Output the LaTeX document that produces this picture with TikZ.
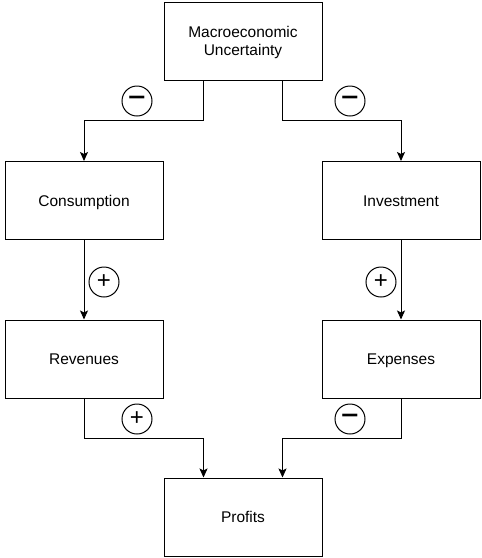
\documentclass[tikz,border=0pt]{standalone}
\usepackage{fontspec}
\setmainfont{Liberation Sans}
\usetikzlibrary{arrows.meta,positioning}

\newcommand{\negsign}{\scalebox{1.25}[1]{\textbf{−}}}

\tikzset{
  blockbox/.style={draw, line width=1pt, minimum width=158pt, minimum height=78pt, inner sep=0pt, align=center, font=\fontsize{15.5}{18.5}\selectfont},
  oneline/.style={blockbox, text height=11pt, text depth=0pt},
  signmark/.style={draw, circle, line width=1pt, minimum size=30pt, inner sep=0pt, font=\fontsize{24}{24}\selectfont},
  flow/.style={line width=1pt, -{Stealth[length=9pt,width=8pt,inset=2pt]}}
}

\begin{document}
\begin{tikzpicture}[x=1pt,y=-1pt]
\useasboundingbox (0,0) rectangle (482,558);

% Boxes
\node[blockbox] (macro) at (243,41) {\rule{0pt}{14.3pt}Macroeconomic\\Uncertainty\rule[-3.3pt]{0pt}{3.3pt}};
\node[oneline] (cons) at (84,200.5) {Consumption};
\node[oneline] (inv) at (401,200.5) {Investment};
\node[oneline] (rev) at (84,359) {Revenues};
\node[oneline] (exp) at (401,359) {Expenses};
\node[oneline] (prof) at (243,517) {Profits};

% Uncertainty to demand
\draw[flow] ([xshift=-39.5pt]macro.south) -- ++(0,40) -| (cons.north);
\draw[flow] ([xshift=39.5pt]macro.south) -- ++(0,40) -| (inv.north);
\node[signmark] (s1) at (137,101) {\negsign};
\node[signmark] (s2) at (350,101) {\negsign};

% Demand to cash flows
\draw[flow] (cons) -- (rev);
\draw[flow] (inv) -- (exp);
\node[signmark] (s3) at (104,282) {+};
\node[signmark] (s4) at (381,282) {+};

% Cash flows to profits
\draw[flow] (rev.south) -- ++(0,40) -| ([xshift=-39.5pt]prof.north);
\draw[flow] (exp.south) -- ++(0,40) -| ([xshift=39.5pt]prof.north);
\node[signmark] (s5) at (137,419) {+};
\node[signmark] (s6) at (350,419) {\negsign};

\end{tikzpicture}
\end{document}
